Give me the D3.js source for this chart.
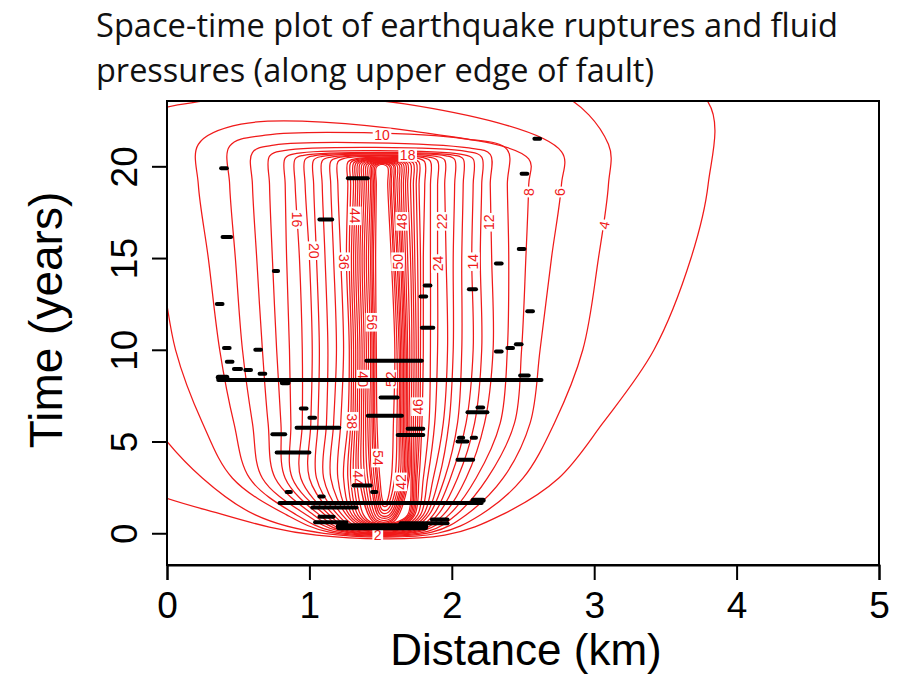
<!DOCTYPE html>
<html>
<head>
<meta charset="utf-8">
<script src="https://cdn.jsdelivr.net/npm/d3@7"></script>
<style>
  body { margin: 0; background: #fff; }
  svg text { font-family: "Liberation Sans", Arial, sans-serif; }
</style>
</head>
<body>
<div id="chart"></div>
<script>
// Hard code values ---------- ---------- ----------
let canvasW = 904, canvasH = 675;
let red = "#f01a1a";

// Contour levels (outer -> inner) and where each line sits
let levels = [2,4,6,8,10,12,14,16,18,20,22,24,26,28,30,32,34,36,38,40,42,44,46,48,50,52,54,56,58];
// flat bottom of each U: time (years) and left / right end (km)
let botT = [-0.1,0.0,0.06,0.1,0.14,0.17,0.2,0.23,0.26,0.29,0.32,0.35,0.38,0.41,0.44,0.47,0.5,0.54,0.58,0.62,0.67,0.72,0.8,0.9,1.0,1.15,1.3,1.5,1.7];
let botL = [1.05,1.10,1.14,1.17,1.20,1.22,1.24,1.26,1.28,1.30,1.32,1.34,1.36,1.38,1.40,1.41,1.42,1.43,1.44,1.45,1.46,1.47,1.48,1.49,1.50,1.505,1.51,1.515,1.52];
let botR = [1.95,1.90,1.86,1.83,1.80,1.78,1.76,1.74,1.72,1.70,1.68,1.67,1.66,1.65,1.64,1.63,1.62,1.61,1.60,1.59,1.58,1.575,1.57,1.565,1.56,1.555,1.55,1.545,1.54];
// right branch x (km) at t = 1, 3, 6, 10, 15, 19 years
let right1  = [2.35,2.20,2.10,2.03,1.98,1.94,1.90,1.87,1.84,1.82,1.80,1.78,1.76,1.74,1.73,1.72,1.71,1.70,1.69,null,null,null,null,null,null,null,null,null,null];
let right3  = [2.75,2.50,2.36,2.25,2.17,2.10,2.04,1.99,1.95,1.91,1.87,1.83,1.80,1.77,1.755,1.745,1.735,1.725,1.715,1.70,1.69,1.68,1.67,1.66,1.65,1.635,1.62,1.60,1.575];
let right6  = [3.06,2.72,2.55,2.44,2.34,2.23,2.16,2.10,2.04,1.98,1.94,1.88,1.84,1.79,1.775,1.76,1.745,1.73,1.715,1.70,1.69,1.68,1.67,1.66,1.65,1.64,1.63,1.615,1.59];
let right10 = [3.42,2.92,2.62,2.49,2.39,2.29,2.21,2.15,2.07,2.01,1.97,1.90,1.85,1.80,1.78,1.765,1.75,1.735,1.72,1.705,1.69,1.68,1.67,1.66,1.65,1.64,1.63,1.615,1.60];
let right15 = [3.68,3.03,2.70,2.52,2.40,2.28,2.20,2.14,2.07,2.01,1.96,1.90,1.85,1.80,1.78,1.76,1.74,1.725,1.71,1.69,1.675,1.66,1.65,1.64,1.625,1.615,1.60,1.59,1.575];
let right19 = [3.80,3.10,2.77,2.54,2.39,2.27,2.21,2.15,2.08,2.02,1.95,1.90,1.85,1.81,1.77,1.75,1.73,1.71,1.69,1.675,1.66,1.645,1.63,1.615,1.60,1.59,1.575,1.565,1.55];
// left branch x (km) at t = 1, 3, 6, 10, 15, 19 years
let left1  = [0.40,0.62,0.84,0.91,0.98,1.03,1.07,1.11,1.14,1.17,1.20,1.23,1.26,1.28,1.30,1.32,1.34,1.36,1.38,null,null,null,null,null,null,null,null,null,null];
let left3  = [-0.3,0.25,0.46,0.58,0.67,0.76,0.83,0.88,0.94,1.00,1.05,1.10,1.15,1.20,1.24,1.27,1.29,1.31,1.33,1.35,1.37,1.39,1.41,1.43,1.44,1.455,1.47,1.48,1.495];
let left6  = [-0.6,-0.1,0.25,0.47,0.60,0.71,0.80,0.87,0.95,1.01,1.06,1.12,1.17,1.22,1.27,1.29,1.305,1.32,1.335,1.35,1.365,1.38,1.395,1.41,1.425,1.44,1.45,1.46,1.475];
let left10 = [-0.9,-0.4,0.06,0.37,0.53,0.67,0.77,0.86,0.95,1.02,1.07,1.13,1.19,1.24,1.28,1.295,1.31,1.325,1.34,1.355,1.37,1.385,1.40,1.415,1.43,1.44,1.45,1.46,1.47];
let left15 = [-1.2,-0.55,-0.05,0.29,0.48,0.63,0.74,0.84,0.93,1.00,1.05,1.11,1.17,1.22,1.26,1.28,1.295,1.31,1.325,1.34,1.355,1.37,1.385,1.40,1.415,1.43,1.44,1.45,1.465];
let left19 = [-1.4,-0.7,-0.15,0.22,0.44,0.60,0.72,0.83,0.90,0.97,1.03,1.09,1.15,1.20,1.27,1.29,1.31,1.325,1.34,1.355,1.37,1.385,1.40,1.415,1.43,1.44,1.45,1.46,1.47];
// closing top of each contour: height at left / right end
let topL = [27,25,23.55,22.3,21.7,21.15,20.85,20.7,20.6,20.57,20.54,20.5,20.47,20.44,20.41,20.38,20.35,20.33,20.31,20.29,20.27,20.25,20.23,20.21,20.19,20.17,20.15,20.13,20.1];
let topR = [26.5,24.2,23.4,21.9,21.5,21.0,20.8,20.65,20.6,20.57,20.54,20.5,20.47,20.44,20.41,20.38,20.35,20.33,20.31,20.29,20.27,20.25,20.23,20.21,20.19,20.17,20.15,20.13,20.1];
// size of the rounded top corners, left side then right side (years, km)
let cornerTL = [3,2.4,1.0,1.1,0.6,0.4,0.3,0.25,0.2,0.2,0.2,0.2,0.2,0.2,0.18,0.18,0.18,0.18,0.16,0.16,0.16,0.16,0.15,0.15,0.15,0.15,0.15,0.15,0.15];
let cornerXL = [0.8,0.5,0.4,0.3,0.25,0.15,0.1,0.08,0.06,0.06,0.06,0.06,0.05,0.05,0.05,0.05,0.05,0.05,0.04,0.04,0.04,0.04,0.04,0.04,0.03,0.03,0.03,0.03,0.03];
let cornerTR = [3,3.0,2.6,1.5,0.6,0.35,0.3,0.25,0.2,0.2,0.2,0.2,0.2,0.2,0.18,0.18,0.18,0.18,0.16,0.16,0.16,0.16,0.15,0.15,0.15,0.15,0.15,0.15,0.15];
let cornerXR = [0.8,0.4,1.1,0.8,0.3,0.15,0.1,0.08,0.06,0.06,0.06,0.06,0.05,0.05,0.05,0.05,0.05,0.05,0.04,0.04,0.04,0.04,0.04,0.04,0.03,0.03,0.03,0.03,0.03];

// Contour labels: text, x (km), t (years), angle
let labText = ["2","4","6","8","10","12","14","16","20","22","24","36","44","48","50","56","18","40","52","38","46","54","42","44"];
let labX    = [1.48,3.07,2.76,2.54,1.51,2.26,2.15,0.91,1.03,1.93,1.90,1.24,1.32,1.65,1.62,1.44,1.69,1.38,1.57,1.30,1.76,1.48,1.64,1.34];
let labT    = [-0.1,16.8,18.6,18.6,21.7,16.95,14.8,17.1,15.4,17.0,14.7,14.8,17.3,17.0,14.8,11.5,20.6,8.4,8.4,6.1,6.9,4.1,2.8,3.0];
let labRot  = [0,-78,-90,-90,0,-90,-90,90,90,-90,-90,90,90,-90,-90,90,0,90,-90,90,-90,90,-90,90];

// Earthquake ruptures: start, end (km), time (years), thickness
let rupX0 = [2.58,0.38,2.49,1.27,1.07,0.39,0.75,2.47,2.31,1.81,2.12,0.35,1.78,1.79,2.53,0.40,0.62,2.31,2.39,2.45,0.42,0.47,0.55,0.65,1.40,0.36,0.36,0.81,2.48,1.50,0.94,1.00,1.41,2.11,2.18,0.91,0.74,1.69,1.62,2.05,2.14,2.04,2.04,0.77,0.84,1.07,1.31,1.44,0.79,2.15,1.02,1.07,1.04,1.21,1.64,1.86];
let rupX1 = [2.62,0.42,2.53,1.41,1.16,0.45,0.78,2.51,2.35,1.85,2.17,0.39,1.82,1.87,2.57,0.44,0.66,2.35,2.43,2.49,0.46,0.52,0.59,0.69,1.79,2.63,0.42,0.85,2.54,1.62,0.98,1.04,1.65,2.25,2.22,1.21,0.83,1.80,1.80,2.08,2.17,2.11,2.15,1.00,0.87,1.10,1.43,1.47,2.21,2.22,1.33,1.17,1.26,1.81,1.97,1.97];
let rupT  = [21.5,19.9,19.6,19.35,17.1,16.15,14.3,15.5,14.7,13.5,13.3,12.5,12.9,11.2,12.1,10.1,10.0,9.9,10.1,10.3,9.35,8.95,8.9,8.7,9.4,8.35,8.5,8.2,8.6,7.4,6.8,6.3,6.4,6.6,6.85,5.75,5.4,5.7,5.35,5.2,5.2,5.0,4.0,4.4,2.25,2.0,2.6,2.25,1.65,1.8,1.4,0.9,0.6,0.35,0.55,0.75];
let rupW  = [4,4,4,4,4,4,4,4,4,4,4,4,4,4,4,4,4,4,4,4,4,4,4,4,4,4,5,5,4,4,4,4,4,4,4,4,4,4,4,4,4,4,4,4,4,4,4,4,4,5,4,4,4,7,4,4];

let xTicks = [0,1,2,3,4,5], yTicks = [0,5,10,15,20];

//Initialize ---------- ---------- ----------
let svg = d3.select("#chart").append("svg").attr("width", canvasW).attr("height", canvasH);
let xScale = d3.scaleLinear().domain([0,5]).range([167,879]);
let yScale = d3.scaleLinear().domain([-1.73,23.56]).range([565,101]);

// Title
let title = svg.append("g").attr("font-size", 32).attr("fill", "#111");
title.append("text").attr("x", 96).attr("y", 37).attr("textLength", 742).attr("lengthAdjust", "spacingAndGlyphs")
    .style("font-family", "'Open Sans', sans-serif").text("Space-time plot of earthquake ruptures and fluid");
title.append("text").attr("x", 96).attr("y", 82).attr("textLength", 558).attr("lengthAdjust", "spacingAndGlyphs")
    .style("font-family", "'Open Sans', sans-serif").text("pressures (along upper edge of fault)");

// Clip to plot box
svg.append("clipPath").attr("id","plotClip").append("rect")
    .attr("x", xScale(0)).attr("y", yScale(23.56)).attr("width", xScale(5)-xScale(0)).attr("height", yScale(-1.73)-yScale(23.56));
let plot = svg.append("g").attr("clip-path","url(#plotClip)");

// Draw contours ---------- ---------- ----------
let contourLine = d3.line().x(d=>xScale(d[0])).y(d=>yScale(d[1])).curve(d3.curveCatmullRomClosed.alpha(0.5));
let knotT = [1,3,6,10,15,19];
levels.forEach((lv,i)=>{
    let rs = [right1[i],right3[i],right6[i],right10[i],right15[i],right19[i]];
    let ls = [left1[i],left3[i],left6[i],left10[i],left15[i],left19[i]];
    let pts = [[botL[i], botT[i]], [botR[i], botT[i]]];
    rs.forEach((v,k)=>{ if(v!==null) pts.push([v, knotT[k]]); });
    pts.push([right19[i], topR[i]-cornerTR[i]]);
    pts.push([right19[i]-cornerXR[i], topR[i]]);
    pts.push([left19[i]+cornerXL[i], topL[i]]);
    pts.push([left19[i], topL[i]-cornerTL[i]]);
    for(let k=ls.length-1;k>=0;k--){ if(ls[k]!==null) pts.push([ls[k], knotT[k]]); }
    plot.append("path").datum(pts).attr("d", contourLine)
        .attr("fill","none").attr("stroke", red).attr("stroke-width", 1.25);
});

// Contour labels with a white gap behind
labText.forEach((t,i)=>{
    let g = plot.append("g").attr("transform","translate("+xScale(labX[i])+","+yScale(labT[i])+") rotate("+labRot[i]+")");
    let w = t.length*7.8+3;
    g.append("rect").attr("x",-w/2).attr("y",-6.5).attr("width",w).attr("height",13).attr("fill","#fff");
    g.append("text").attr("text-anchor","middle").attr("dy","0.36em").attr("font-size",14).attr("fill",red).text(t);
});

// Earthquake ruptures
rupT.forEach((t,i)=>{
    plot.append("line")
        .attr("x1", xScale(rupX0[i])).attr("x2", xScale(rupX1[i]))
        .attr("y1", yScale(t)).attr("y2", yScale(t))
        .attr("stroke","#000").attr("stroke-width", rupW[i]).attr("stroke-linecap","round");
});

// Box
svg.append("rect").attr("x", xScale(0)).attr("y", yScale(23.56))
    .attr("width", xScale(5)-xScale(0)).attr("height", yScale(-1.73)-yScale(23.56))
    .attr("fill","none").attr("stroke","#000").attr("stroke-width",2);

// X axis
let xAxis = svg.append("g").attr("transform","translate(0,"+yScale(-1.73)+")")
    .call(d3.axisBottom(xScale).tickValues(xTicks).tickSize(15).tickFormat(d3.format("d")));
xAxis.select(".domain").attr("stroke-width",2);
xAxis.selectAll(".tick line").attr("stroke-width",2);
xAxis.selectAll(".tick text").attr("y",53).attr("dy",0).attr("font-size",37).attr("fill","#000")
    .style("font-family","'Liberation Sans', Arial, sans-serif");

// Y axis
let yAxis = svg.append("g").attr("transform","translate("+xScale(0)+",0)")
    .call(d3.axisLeft(yScale).tickValues(yTicks).tickSize(15).tickFormat(d3.format("d")));
yAxis.select(".domain").remove();
yAxis.selectAll(".tick line").attr("stroke-width",2);
yAxis.selectAll(".tick text").attr("x",0).attr("y",-30).attr("dy",0).attr("text-anchor","middle")
    .attr("transform","rotate(-90)").attr("font-size",37).attr("fill","#000")
    .style("font-family","'Liberation Sans', Arial, sans-serif");

// Axis titles
svg.append("text").attr("x", 526).attr("y", 665).attr("text-anchor","middle").attr("font-size", 44).attr("fill","#000")
    .text("Distance (km)");
svg.append("text").attr("transform","translate(62,320) rotate(-90)").attr("text-anchor","middle").attr("font-size", 46).attr("fill","#000")
    .text("Time (years)");
</script>
</body>
</html>
